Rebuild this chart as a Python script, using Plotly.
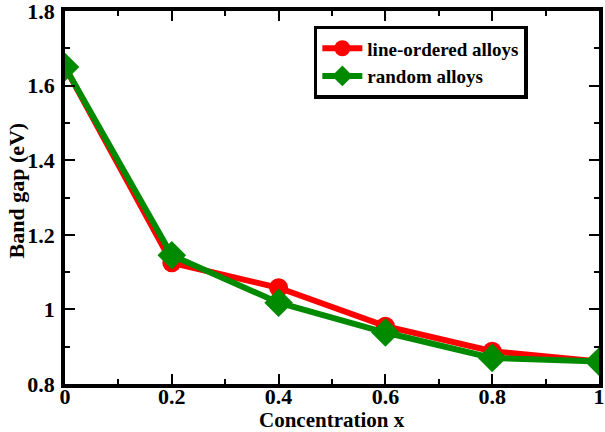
import plotly.graph_objects as go

conc = [0, 0.2, 0.4, 0.6, 0.8, 1.0]
line_ordered = [1.65, 1.125, 1.058, 0.955, 0.888, 0.86]
random_alloys = [1.65, 1.145, 1.018, 0.938, 0.87, 0.86]
x_ticks = [0, 0.2, 0.4, 0.6, 0.8, 1]
x_labels = ["0", "0.2", "0.4", "0.6", "0.8", "1"]
y_ticks = [0.8, 1.0, 1.2, 1.4, 1.6, 1.8]
y_labels = ["0.8", "1", "1.2", "1.4", "1.6", "1.8"]

font = "Liberation Serif"

fig = go.Figure()
fig.add_trace(go.Scatter(
    x=conc, y=line_ordered, mode="lines+markers", name="line-ordered alloys",
    line=dict(color="#ff0000", width=6),
    marker=dict(symbol="circle", size=19, color="#ff0000"),
))
fig.add_trace(go.Scatter(
    x=conc, y=random_alloys, mode="lines+markers", name="random alloys",
    line=dict(color="#008a00", width=6),
    marker=dict(symbol="diamond", size=22, color="#008a00"),
))

axis_common = dict(
    showline=True, linecolor="black", linewidth=3.5, mirror="allticks",
    ticks="inside", ticklen=10, tickwidth=1.5, tickcolor="black",
    showgrid=False, zeroline=False, automargin=False,
    ticklabeloverflow="allow",
    tickfont=dict(family=font, size=22, color="black", weight="bold"),
)

fig.update_xaxes(
    range=[0, 1], tickvals=x_ticks, ticktext=x_labels,
    minor=dict(tickvals=[0.1, 0.3, 0.5, 0.7, 0.9], ticklen=5, tickwidth=1.5, tickcolor="black", ticks="inside"),
    ticklabelstandoff=-10,
    **axis_common,
)
fig.update_yaxes(
    range=[0.8, 1.8], tickvals=y_ticks, ticktext=y_labels,
    minor=dict(tickvals=[0.9, 1.1, 1.3, 1.5, 1.7], ticklen=5, tickwidth=1.5, tickcolor="black", ticks="inside"),
    ticklabelstandoff=2,
    **axis_common,
)

fig.add_annotation(
    text="<b>Concentration x</b>", xref="paper", yref="paper", x=0.5, y=0,
    yshift=-36, xanchor="center", yanchor="middle", showarrow=False,
    font=dict(family=font, size=21, color="black"),
)
fig.add_annotation(
    text="<b>Band gap (eV)</b>", xref="paper", yref="paper", x=0, y=0.5,
    xshift=-49, yshift=7, xanchor="center", yanchor="middle", showarrow=False,
    textangle=-90, font=dict(family=font, size=22, color="black"),
)

fig.update_layout(
    width=605, height=432,
    margin=dict(l=65, r=6, t=11, b=48),
    plot_bgcolor="white", paper_bgcolor="white",
    showlegend=True,
    legend=dict(
        x=0.466, y=0.96, xanchor="left", yanchor="top",
        bordercolor="black", borderwidth=3.5, bgcolor="white",
        font=dict(family=font, size=19, color="black", weight="bold"),
        itemwidth=40, tracegroupgap=0,
    ),
)

fig.write_html("out.html")
